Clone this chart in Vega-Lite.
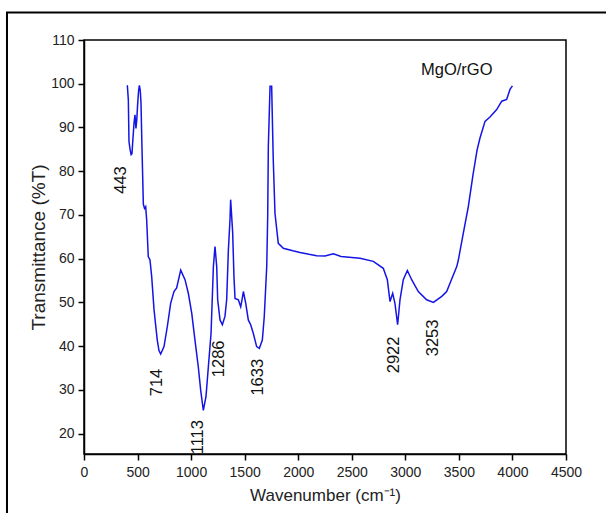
{
  "$schema": "https://vega.github.io/schema/vega-lite/v6.json",
  "width": 482,
  "height": 414,
  "autosize": {"type": "none"},
  "padding": {"left": 84, "top": 40, "right": 40, "bottom": 59},
  "background": "white",
  "config": {
    "view": {"stroke": "black", "strokeWidth": 1.5},
    "axis": {
      "grid": false,
      "domainColor": "black",
      "domainWidth": 1.5,
      "tickColor": "black",
      "tickWidth": 1.5,
      "labelFont": "Liberation Sans",
      "labelFontSize": 14,
      "labelColor": "#222",
      "titleFont": "Liberation Sans",
      "titleFontWeight": "normal",
      "titleColor": "#222"
    }
  },
  "datasets": {
    "spectrum": [
      {"v": 400, "T": 99.6}, {"v": 405, "T": 99.5}, {"v": 414, "T": 96.3}, {"v": 420, "T": 86.8},
      {"v": 430, "T": 85.0}, {"v": 440, "T": 83.8}, {"v": 448, "T": 84.0}, {"v": 454, "T": 86.4},
      {"v": 467, "T": 91.0}, {"v": 476, "T": 92.9}, {"v": 485, "T": 89.8}, {"v": 492, "T": 91.5},
      {"v": 500, "T": 95.0}, {"v": 510, "T": 98.5}, {"v": 517, "T": 99.6}, {"v": 525, "T": 98.5},
      {"v": 532, "T": 95.7}, {"v": 541, "T": 85.7}, {"v": 554, "T": 72.5}, {"v": 565, "T": 71.5},
      {"v": 576, "T": 71.9}, {"v": 585, "T": 68.9}, {"v": 600, "T": 60.5}, {"v": 616, "T": 59.7},
      {"v": 632, "T": 55.9}, {"v": 654, "T": 48.3}, {"v": 684, "T": 41.4}, {"v": 700, "T": 39.0},
      {"v": 716, "T": 38.2}, {"v": 747, "T": 39.9}, {"v": 778, "T": 44.5}, {"v": 809, "T": 49.8},
      {"v": 840, "T": 52.5}, {"v": 865, "T": 53.3}, {"v": 903, "T": 57.4}, {"v": 943, "T": 55.2},
      {"v": 974, "T": 52.1}, {"v": 1006, "T": 47.5}, {"v": 1036, "T": 41.4}, {"v": 1067, "T": 35.3},
      {"v": 1089, "T": 30.0}, {"v": 1114, "T": 25.3}, {"v": 1139, "T": 28.5}, {"v": 1161, "T": 35.3},
      {"v": 1186, "T": 42.9}, {"v": 1208, "T": 58.2}, {"v": 1223, "T": 62.8}, {"v": 1239, "T": 58.2},
      {"v": 1248, "T": 50.6}, {"v": 1270, "T": 46.0}, {"v": 1292, "T": 44.9}, {"v": 1316, "T": 46.8},
      {"v": 1332, "T": 50.6}, {"v": 1348, "T": 62.0}, {"v": 1363, "T": 68.9}, {"v": 1369, "T": 73.5},
      {"v": 1388, "T": 66.0}, {"v": 1400, "T": 55.9}, {"v": 1410, "T": 50.9}, {"v": 1441, "T": 50.6},
      {"v": 1463, "T": 49.0}, {"v": 1475, "T": 50.6}, {"v": 1488, "T": 52.5}, {"v": 1510, "T": 49.8},
      {"v": 1534, "T": 46.0}, {"v": 1556, "T": 44.9}, {"v": 1581, "T": 42.9}, {"v": 1612, "T": 39.9},
      {"v": 1637, "T": 39.5}, {"v": 1665, "T": 41.4}, {"v": 1683, "T": 46.8}, {"v": 1706, "T": 58.2},
      {"v": 1715, "T": 69.7}, {"v": 1721, "T": 85.7}, {"v": 1737, "T": 99.4}, {"v": 1752, "T": 99.4},
      {"v": 1767, "T": 82.6}, {"v": 1783, "T": 70.4}, {"v": 1814, "T": 63.5}, {"v": 1861, "T": 62.4},
      {"v": 1950, "T": 61.8}, {"v": 2017, "T": 61.4}, {"v": 2100, "T": 61.0}, {"v": 2172, "T": 60.7},
      {"v": 2250, "T": 60.6}, {"v": 2328, "T": 61.1}, {"v": 2400, "T": 60.5}, {"v": 2500, "T": 60.3},
      {"v": 2577, "T": 60.1}, {"v": 2701, "T": 59.4}, {"v": 2794, "T": 57.8}, {"v": 2832, "T": 55.2},
      {"v": 2857, "T": 50.2}, {"v": 2882, "T": 52.1}, {"v": 2903, "T": 49.8}, {"v": 2928, "T": 44.9},
      {"v": 2950, "T": 50.6}, {"v": 2981, "T": 55.2}, {"v": 3019, "T": 57.3}, {"v": 3059, "T": 55.2},
      {"v": 3121, "T": 52.5}, {"v": 3199, "T": 50.6}, {"v": 3262, "T": 50.0}, {"v": 3340, "T": 51.4},
      {"v": 3386, "T": 52.5}, {"v": 3417, "T": 54.4}, {"v": 3480, "T": 58.2}, {"v": 3495, "T": 59.7},
      {"v": 3541, "T": 65.8}, {"v": 3588, "T": 71.9}, {"v": 3632, "T": 79.2}, {"v": 3670, "T": 84.9},
      {"v": 3697, "T": 87.6}, {"v": 3744, "T": 91.4}, {"v": 3790, "T": 92.4}, {"v": 3853, "T": 94.1},
      {"v": 3900, "T": 96.0}, {"v": 3946, "T": 96.4}, {"v": 3977, "T": 98.7}, {"v": 4000, "T": 99.5}
    ],
    "peaks": [
      {"v": 345, "T": 78.0, "label": "443"},
      {"v": 678, "T": 31.7, "label": "714"},
      {"v": 1067, "T": 19.2, "label": "1113"},
      {"v": 1257, "T": 37.1, "label": "1286"},
      {"v": 1628, "T": 32.9, "label": "1633"},
      {"v": 2896, "T": 38.0, "label": "2922"},
      {"v": 3254, "T": 41.9, "label": "3253"}
    ],
    "legendText": [
      {"v": 3480, "T": 103.2, "label": "MgO/rGO"}
    ],
    "frame": [
      {"x0": -719, "x1": 6000, "y0": 116.3, "y1": -20}
    ]
  },
  "layer": [
    {
      "data": {"name": "frame"},
      "mark": {"type": "rect", "fill": null, "fillOpacity": 0, "stroke": "black", "strokeWidth": 2, "clip": false},
      "encoding": {
        "x": {"field": "x0", "type": "quantitative"},
        "x2": {"field": "x1"},
        "y": {"field": "y0", "type": "quantitative"},
        "y2": {"field": "y1"}
      }
    },
    {
      "data": {"name": "spectrum"},
      "mark": {"type": "line", "color": "#1414e6", "strokeWidth": 1.5, "interpolate": "linear"},
      "encoding": {
        "x": {
          "field": "v", "type": "quantitative",
          "scale": {"domain": [0, 4500], "nice": false},
          "axis": {
            "title": "Wavenumber (cm⁻¹)",
            "titleFontSize": 17,
            "titlePadding": 8,
            "values": [0, 250, 500, 750, 1000, 1250, 1500, 1750, 2000, 2250, 2500, 2750, 3000, 3250, 3500, 3750, 4000, 4250, 4500],
            "labelExpr": "datum.value % 500 === 0 ? datum.label : ''",
            "format": "d",
            "labelFlush": false,
            "labelOverlap": false,
            "labelPadding": 5,
            "tickSize": {"condition": {"test": "datum.value % 500 !== 0", "value": 3.5}, "value": 6}
          }
        },
        "y": {
          "field": "T", "type": "quantitative",
          "scale": {"domain": [15.35, 110], "nice": false, "zero": false},
          "axis": {
            "title": "Transmittance (%T)",
            "titleFontSize": 19,
            "titlePadding": 2,
            "values": [20, 25, 30, 35, 40, 45, 50, 55, 60, 65, 70, 75, 80, 85, 90, 95, 100, 105, 110],
            "labelExpr": "datum.value % 10 === 0 ? datum.label : ''",
            "labelFlush": false,
            "labelOverlap": false,
            "labelPadding": 4,
            "tickSize": {"condition": {"test": "datum.value % 10 !== 0", "value": 3.5}, "value": 6}
          }
        }
      }
    },
    {
      "data": {"name": "peaks"},
      "mark": {"type": "text", "angle": 270, "align": "center", "baseline": "middle", "font": "Liberation Sans", "fontSize": 16.5, "color": "#111", "clip": false},
      "encoding": {
        "x": {"field": "v", "type": "quantitative"},
        "y": {"field": "T", "type": "quantitative"},
        "text": {"field": "label"}
      }
    },
    {
      "data": {"name": "legendText"},
      "mark": {"type": "text", "align": "center", "baseline": "middle", "font": "Liberation Sans", "fontSize": 16.5, "color": "#111"},
      "encoding": {
        "x": {"field": "v", "type": "quantitative"},
        "y": {"field": "T", "type": "quantitative"},
        "text": {"field": "label"}
      }
    }
  ]
}
